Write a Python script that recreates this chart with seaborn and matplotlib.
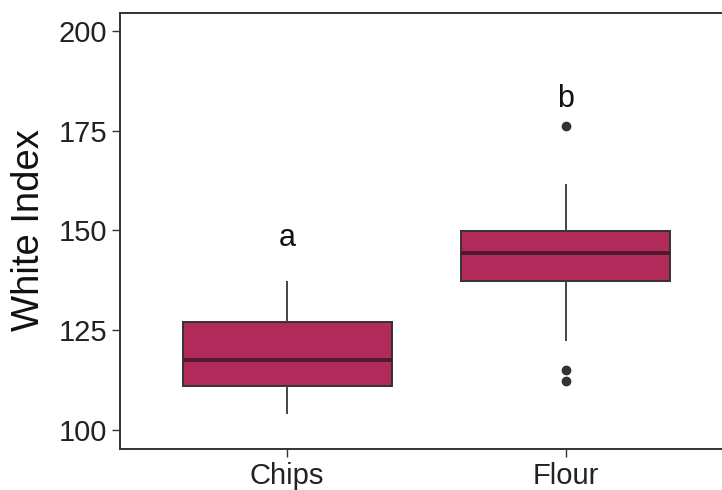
import matplotlib
matplotlib.use("Agg")
import matplotlib.pyplot as plt
import seaborn as sns
import pandas as pd

# Whiteness measurements for each product
chips = [104.0, 108.5, 111.0, 114.0, 117.5, 122.0, 127.0, 132.0, 137.3]
flour = [112.2, 115.0, 122.2, 137.3, 139.5, 141.5, 144.3, 146.0, 148.0,
         149.8, 154.0, 161.6, 176.1]
categories = ["Chips", "Flour"]
group_letters = ["a", "b"]
letter_heights = [146.0, 181.0]
y_ticks = [100, 125, 150, 175, 200]

df = pd.DataFrame({
    "Product": ["Chips"] * len(chips) + ["Flour"] * len(flour),
    "White Index": chips + flour,
})

sns.set_style("white")
plt.rcParams["font.family"] = ["Liberation Sans", "DejaVu Sans"]

fig = plt.figure(figsize=(7.22, 4.90), dpi=100)
ax = fig.add_axes([120 / 722, 41 / 490, 613 / 722, 436 / 490])

edge = "#333333"
sns.boxplot(
    data=df, x="Product", y="White Index", order=categories, ax=ax,
    color="#B22A5A", saturation=1, width=0.75, whis=1.5,
    linecolor=edge, linewidth=1.4, showcaps=False,
    medianprops={"color": "#4d1a2e", "linewidth": 2.8},
    whiskerprops={"color": "#444444", "linewidth": 1.4},
    flierprops={"marker": "o", "markerfacecolor": edge,
                "markeredgecolor": edge, "markersize": 6},
)

for i, (lab, yv) in enumerate(zip(group_letters, letter_heights)):
    ax.text(i, yv, lab, ha="center", va="baseline", fontsize=22,
            color="#111111")

ax.set_xlim(-0.6, 1.6)
ax.set_ylim(95.2, 204.5)
ax.set_yticks(y_ticks)
ax.set_xlabel("")
ax.set_ylabel("White Index", fontsize=27.5, color="#111111")
ax.yaxis.set_label_coords(-0.119, 0.502)

ax.tick_params(axis="both", which="major", length=6, width=1.0,
               color=edge, labelsize=21, labelcolor="#222222",
               direction="out", pad=3, bottom=True, left=True)
ax.tick_params(axis="x", pad=3.5)

for name, sp in ax.spines.items():
    sp.set_visible(name != "right")
    sp.set_color(edge)
    sp.set_linewidth(1.4)

fig.savefig("out.png", dpi=100, facecolor="white")
